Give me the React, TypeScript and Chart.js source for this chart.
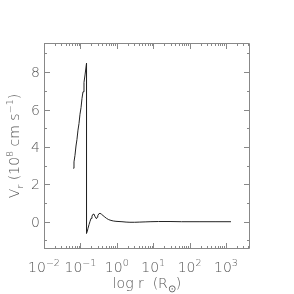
import React, { useEffect, useRef } from "react";
import { Chart, registerables } from "chart.js";

Chart.register(...registerables);

// radius in solar radii, radial velocity in 1e8 cm/s
const radius = [
  0.0638, 0.0667, 0.0710, 0.0757, 0.0805, 0.0859, 0.0915, 0.0975, 0.104, 0.1107, 0.118, 0.1256, 0.134, 0.1471,
  0.1473, 0.155, 0.162, 0.173, 0.184, 0.196, 0.208, 0.222, 0.235, 0.255, 0.276, 0.29, 0.30, 0.32, 0.345,
  0.38, 0.418, 0.47, 0.52, 0.60, 0.69, 0.80, 0.95, 1.15, 1.39, 1.8, 2.3, 3.1, 4.3, 6.0, 8.2, 14, 29, 60, 193, 500, 1370,
];
const velocity = [
  2.86, 3.2, 3.55, 4.05, 4.4, 4.9, 5.25, 5.75, 6.1, 6.6, 6.95, 7.45, 7.85, 8.47,
  -0.62, -0.5, -0.35, -0.15, 0.02, 0.18, 0.3, 0.4, 0.41, 0.26, 0.16, 0.24, 0.32, 0.42, 0.45,
  0.4, 0.33, 0.25, 0.18, 0.11, 0.07, 0.04, 0.02, 0.01, 0.0, -0.02, -0.03, -0.03, -0.02, -0.01, 0.0, 0.01, 0.01, 0.0, 0.0, 0.0, 0.0,
];
const xMin = 0.01;
const xMax = 4570;
const yMin = -1.46;
const yMax = 9.56;
const xMajorExps = [-2, -1, 0, 1, 2, 3];
const yMajorTicks = [0, 2, 4, 6, 8];
const yMinorTicks = [-1, 1, 3, 5, 7, 9];

const TEXT = "#555";
const FRAME = "#888";
const FONT = "'DejaVu Sans', sans-serif";

type Seg = { t: string; sup?: boolean; sub?: boolean };

function segWidth(ctx: CanvasRenderingContext2D, segs: Seg[], size: number) {
  let w = 0;
  for (const s of segs) {
    const fs = s.sup || s.sub ? size * 0.68 : size;
    ctx.font = `200 ${fs}px ${FONT}`;
    w += ctx.measureText(s.t).width;
  }
  return w;
}

function drawRich(ctx: CanvasRenderingContext2D, segs: Seg[], x: number, y: number, size: number, align: "left" | "center" | "right") {
  const w = segWidth(ctx, segs, size);
  let cx = align === "left" ? x : align === "center" ? x - w / 2 : x - w;
  ctx.textBaseline = "alphabetic";
  ctx.textAlign = "left";
  for (const s of segs) {
    const fs = s.sup || s.sub ? size * 0.68 : size;
    ctx.font = `200 ${fs}px ${FONT}`;
    const dy = s.sup ? -size * 0.42 : s.sub ? size * 0.25 : 0;
    ctx.fillText(s.t, cx, y + dy);
    cx += ctx.measureText(s.t).width;
  }
}

const framePlugin = {
  id: "idlFrame",
  afterDraw(chart: any) {
    const { ctx, chartArea } = chart;
    const { left, right, top, bottom } = chartArea;
    const xs = chart.scales.x;
    const ys = chart.scales.y;
    ctx.save();
    ctx.strokeStyle = FRAME;
    ctx.lineWidth = 1;
    ctx.beginPath();
    ctx.rect(left + 0.5, top + 0.5, right - left - 1, bottom - top - 1);
    ctx.stroke();
    // x ticks
    ctx.beginPath();
    for (let e = -2; e <= 4; e++) {
      for (let m = 1; m <= 9; m++) {
        const v = m * Math.pow(10, e);
        if (v < xMin || v > xMax) continue;
        const px = Math.round(xs.getPixelForValue(v)) + 0.5;
        const len = m === 1 ? 6 : 3;
        ctx.moveTo(px, bottom);
        ctx.lineTo(px, bottom - len);
        ctx.moveTo(px, top);
        ctx.lineTo(px, top + len);
      }
    }
    // y ticks
    for (const v of yMajorTicks) {
      const py = Math.round(ys.getPixelForValue(v)) + 0.5;
      ctx.moveTo(left, py);
      ctx.lineTo(left + 6, py);
      ctx.moveTo(right, py);
      ctx.lineTo(right - 6, py);
    }
    for (const v of yMinorTicks) {
      const py = Math.round(ys.getPixelForValue(v)) + 0.5;
      ctx.moveTo(left, py);
      ctx.lineTo(left + 3, py);
      ctx.moveTo(right, py);
      ctx.lineTo(right - 3, py);
    }
    ctx.stroke();

    ctx.fillStyle = TEXT;
    const size = 14;
    for (const e of xMajorExps) {
      const px = xs.getPixelForValue(Math.pow(10, e));
      drawRich(ctx, [{ t: "10" }, { t: (e < 0 ? "\u2212" : "") + Math.abs(e), sup: true }], px, 272, size, "center");
    }
    for (const v of yMajorTicks) {
      const py = ys.getPixelForValue(v);
      drawRich(ctx, [{ t: String(v) }], 40, py + 5, size, "right");
    }
    // x title
    drawRich(
      ctx,
      [{ t: "log r  (R" }, { t: "\u2299", sub: true }, { t: ")" }],
      (left + right) / 2,
      288,
      size,
      "center"
    );
    // y title
    ctx.translate(19, (top + bottom) / 2);
    ctx.rotate(-Math.PI / 2);
    drawRich(
      ctx,
      [{ t: "V" }, { t: "r", sub: true }, { t: " (10" }, { t: "8", sup: true }, { t: " cm s" }, { t: "\u22121", sup: true }, { t: ")" }],
      0,
      0,
      size,
      "center"
    );
    ctx.restore();
  },
};

export default function App() {
  const ref = useRef<HTMLCanvasElement | null>(null);
  useEffect(() => {
    if (!ref.current) return;
    const chart = new Chart(ref.current, {
      type: "line",
      data: {
        datasets: [
          {
            data: radius.map((r, i) => ({ x: r, y: velocity[i] })),
            borderColor: "#222",
            borderWidth: 1,
            pointRadius: 0,
            tension: 0,
            fill: false,
          },
        ],
      },
      options: {
        animation: false,
        responsive: false,
        devicePixelRatio: 1,
        layout: { padding: { left: 44, top: 43, right: 294 - 250, bottom: 294 - 249 } },
        plugins: { legend: { display: false }, tooltip: { enabled: false } },
        scales: {
          x: { type: "logarithmic", min: xMin, max: xMax, display: false },
          y: { type: "linear", min: yMin, max: yMax, display: false },
        },
      },
      plugins: [framePlugin],
    });
    return () => chart.destroy();
  }, []);
  return (
    <div style={{ position: "fixed", left: 0, top: 0, width: 294, height: 294, background: "#fff" }}>
      <canvas ref={ref} width={294} height={294} style={{ width: 294, height: 294, display: "block" }} />
    </div>
  );
}
